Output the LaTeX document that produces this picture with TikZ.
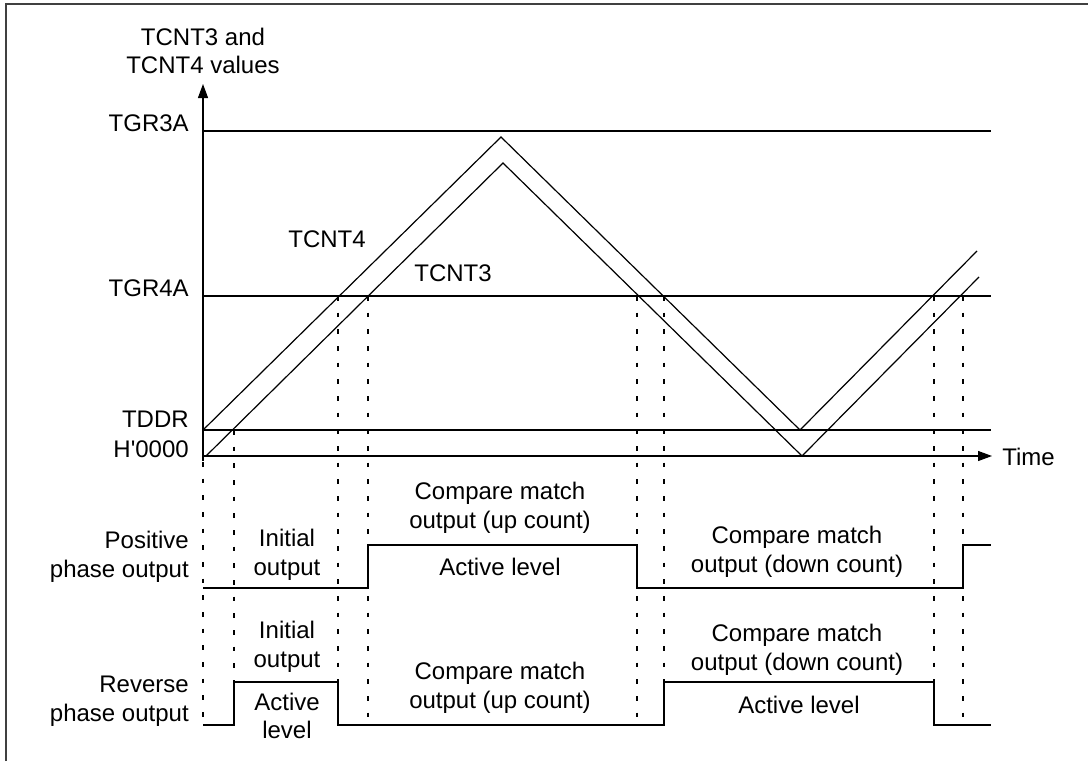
\documentclass[tikz,border=0pt]{standalone}
\usepackage{fontspec}
\setmainfont{Liberation Sans}[Ligatures=TeXOff]
\usetikzlibrary{arrows.meta}
\begin{document}
\begin{tikzpicture}[x=0.75pt,y=-0.75pt,
  every node/.style={font=\fontsize{18}{21.5}\selectfont, inner sep=0pt, align=center},
  ln/.style={line width=0.9pt},
  dsh/.style={line width=0.9pt, dash pattern=on 3.5pt off 9pt},
  lbl/.style={anchor=east, align=right},
  axarrow/.style={-{Triangle[length=10.5pt,width=7.5pt]}}]
\useasboundingbox (0,0) rectangle (1088,761);
% frame
\draw[line width=1.3pt, black!75] (6,761) -- (6,4) -- (1088,4);

% coordinates
\coordinate (o) at (203,461);
\coordinate (ytip) at (203,84);
\coordinate (x0) at (203,456);
\coordinate (xtip) at (992,456);

% reference levels
\draw[ln] (203,131) -- (991,131);
\draw[ln] (203,296) -- (991,296);
\draw[ln] (203,430) -- (991,430);

% axes
\draw[ln, axarrow] (o) -- (ytip);
\draw[ln, axarrow] (x0) -- (xtip);

% counters
\draw[ln] (203,430) -- (501,137) -- (800,430) -- (977,251);
\draw[ln] (206,456) -- (503,163) -- (802,456) -- (979,277);

% dashed guides
\foreach \xx/\yy in {203/462, 234/430, 338/296, 368/296, 637/296, 664/296, 934/296, 963/296}
  \draw[dsh] (\xx,\yy) -- (\xx,722);

% waveforms
\draw[ln] (203,588) -- (368,588) -- (368,545) -- (637,545) -- (637,588) -- (963,588) -- (963,545) -- (991,545);
\draw[ln] (203,725) -- (234,725) -- (234,682) -- (338,682) -- (338,725) -- (664,725) -- (664,682) -- (934,682) -- (934,725) -- (991,725);

% labels
\node (ytitle) at (203,51) {TCNT3 and\\TCNT4 values};
\node[lbl] (tgr3a) at (189,123) {TGR3A};
\node[lbl] (tgr4a) at (189,288) {TGR4A};
\node[lbl] (tddr) at (189,419) {TDDR};
\node[lbl] (h0) at (189,449) {H'0000};
\node[anchor=west] (time) at (1002,457) {Time};
\node (tcnt4) at (327,239) {TCNT4};
\node (tcnt3) at (453,273) {TCNT3};

\node[lbl] (pos) at (189,557) {Positive\\phase output};
\node[lbl] (rev) at (189,701) {Reverse\\phase output};

\node (ipos) at (287,555) {Initial\\output};
\node (irev) at (287,647) {Initial\\output};
\node (arev) at (287,716) {Active\\level};

\node (cupos) at (500,508) {Compare match\\output (up count)};
\node (apos) at (500,567) {Active level};
\node (curev) at (500,688) {Compare match\\output (up count)};

\node (cdpos) at (797,552) {Compare match\\output (down count)};
\node (cdrev) at (797,650) {Compare match\\output (down count)};
\node (adrev) at (799,705) {Active level};
\end{tikzpicture}
\end{document}
